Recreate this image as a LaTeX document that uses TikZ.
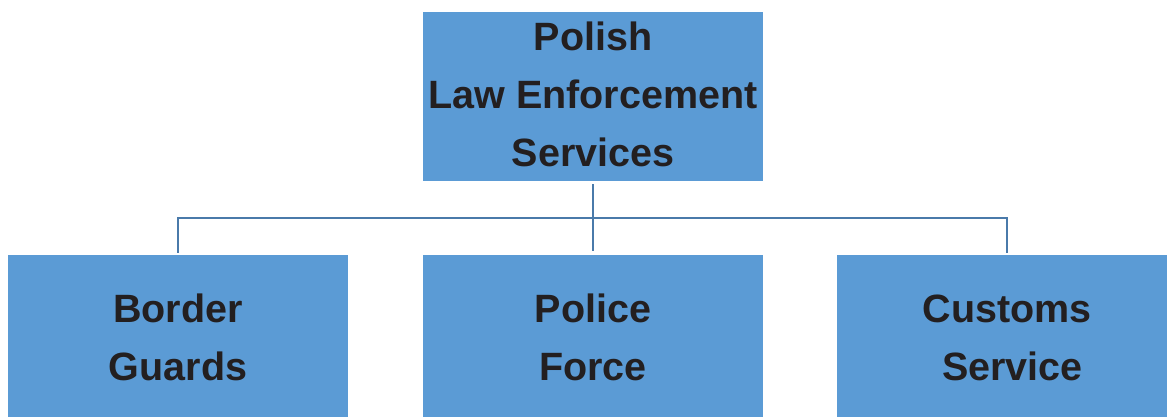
\documentclass[tikz,border=0pt]{standalone}
\usepackage{fontspec}
\setmainfont{Liberation Sans}
\definecolor{boxblue}{HTML}{5B9BD5}
\definecolor{linkblue}{HTML}{4A7AAA}
\definecolor{txt}{HTML}{231F20}
\tikzset{
  orgbox/.style={rectangle, fill=boxblue, draw=none, minimum width=340pt, minimum height=169pt,
    inner sep=0pt, align=center, text=txt, text depth=4.5pt,
    font=\fontsize{39.5pt}{58pt}\selectfont\bfseries},
  conn/.style={draw=linkblue, line width=2pt}
}
\begin{document}
\begin{tikzpicture}[x=1pt,y=-1pt]
\useasboundingbox (0,0) rectangle (1167,416);
\clip (0,0) rectangle (1167,416);
\node[orgbox] (top) at (593,96.5) {Polish\\Law Enforcement\\Services};
\node[orgbox] (b1) at (178,339.5) {Border\\Guards};
\node[orgbox] (b2) at (593,339.5) {Police\\Force};
\node[orgbox] (b3) at (1007,339.5) {Customs\\\hspace*{11pt}Service};
\coordinate (bus) at (593,218);
\draw[conn, shorten <=3pt, shorten >=4pt] (top.south) -- (b2.north);
\draw[conn, shorten <=2pt, shorten >=2pt] (b1.north) |- (bus) -| (b3.north);
\end{tikzpicture}
\end{document}
